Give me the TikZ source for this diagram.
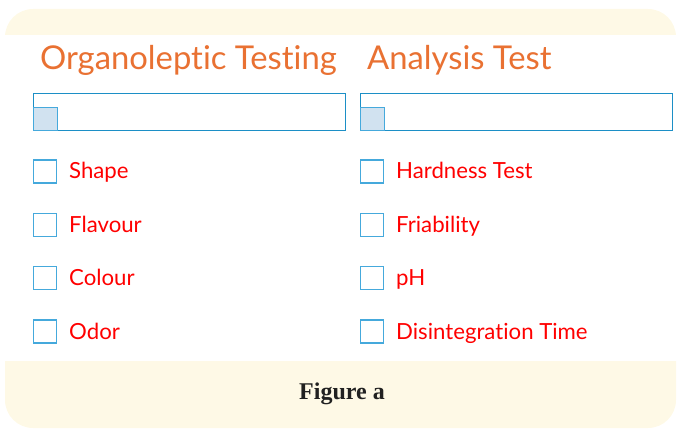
\documentclass[tikz,border=0pt]{standalone}
\usepackage{fontspec}
\setmainfont{Lato}[Ligatures={NoCommon}]
\newfontfamily\capfont{Liberation Serif}
\definecolor{cream}{HTML}{FEF9E6}
\definecolor{ttl}{HTML}{E97132}
\definecolor{boxblue}{HTML}{1C8FC6}
\definecolor{chkblue}{HTML}{45A9DC}
\definecolor{sqfill}{HTML}{D1E2F0}
\definecolor{lblred}{HTML}{FF0000}
\tikzset{
  title/.style={text=ttl, font=\fontsize{32.8}{38}\selectfont, inner sep=0pt, anchor=base west},
  inbox/.style={draw=boxblue, line width=1.3pt, minimum width=312pt, minimum height=37pt, inner sep=0pt, anchor=north west},
  smallsq/.style={draw=chkblue, fill=sqfill, line width=1.3pt, minimum width=24pt, minimum height=23pt, inner sep=0pt, anchor=south west},
  chk/.style={draw=chkblue, line width=1.5pt, minimum size=23pt, inner sep=0pt},
  lbl/.style={text=lblred, font=\fontsize{22.2}{26}\selectfont, inner sep=0pt, anchor=base west},
  caption/.style={text=black!87, font=\capfont\bfseries\fontsize{24}{28}\selectfont, inner sep=0pt, anchor=base}
}
\begin{document}
\begin{tikzpicture}[x=1pt,y=-1pt]
\useasboundingbox (0,0) rectangle (677,430);
\fill[cream, rounded corners=28pt] (5,9) rectangle (676,428);
\fill[white] (0,35) rectangle (677,361);
% titles
\node[title] (t1) at (40,70) {Organoleptic Testing};
\node[title] (t2) at (367,70) {Analysis Test};
% input boxes
\node[inbox] (in1) at (33,93) {};
\node[smallsq] (s1) at (in1.south west) {};
\node[inbox] (in2) at (360,93) {};
\node[smallsq] (s2) at (in2.south west) {};
% left column
\node[chk] (c1) at (45,171.5) {};
\node[lbl] (l1) at (69,179) {Shape};
\node[chk] (c2) at (45,225) {};
\node[lbl] (l2) at (69,232.5) {Flavour};
\node[chk] (c3) at (45,278) {};
\node[lbl] (l3) at (69,285.5) {Colour};
\node[chk] (c4) at (45,331.5) {};
\node[lbl] (l4) at (69,339) {Odor};
% right column
\node[chk] (d1) at (372,171.5) {};
\node[lbl] (r1) at (396,179) {Hardness Test};
\node[chk] (d2) at (372,225) {};
\node[lbl] (r2) at (396,232.5) {Friability};
\node[chk] (d3) at (372,278) {};
\node[lbl] (r3) at (396,285.5) {pH};
\node[chk] (d4) at (372,331.5) {};
\node[lbl] (r4) at (396,339) {Disintegration Time};
% caption
\node[caption] (cap) at (342,399) {Figure a};
\end{tikzpicture}
\end{document}
